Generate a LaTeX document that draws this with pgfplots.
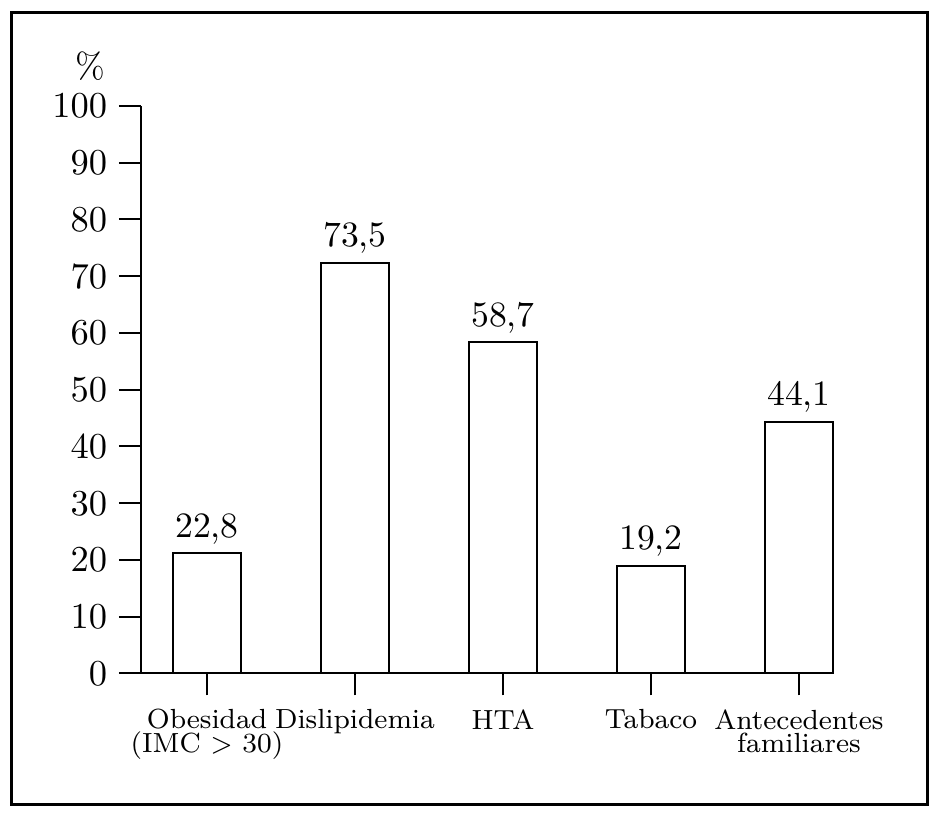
\documentclass[border=0pt]{standalone}
\usepackage{pgfplots}
\pgfplotsset{compat=1.18}
\begin{document}
\begin{tikzpicture}
\begin{axis}[
  at={(42.3pt,41.85pt)}, anchor=south west,
  scale only axis,
  width=207.6pt, height=170.25pt,
  xmin=-0.446, xmax=4.23,
  ymin=0, ymax=100,
  axis lines=left,
  axis line style={-, line width=0.6pt},
  tick style={black, line width=0.6pt},
  tick align=outside,
  major tick length=6.6pt,
  xtick={0,1,2,3,4},
  xticklabels={{Obesidad\\(IMC $>$ 30)},{Dislipidemia},{HTA},{Tabaco},{Antecedentes\\familiares}},
  xticklabel style={align=center, font=\fontsize{8.3}{7.1}\selectfont, text depth=0pt, yshift=-0.6pt},
  ytick={0,10,...,100},
  yticklabel style={font=\fontsize{10.7}{12}\selectfont},
  ybar, bar width=20.4pt,
  clip=false,
  point meta=explicit symbolic,
  nodes near coords,
  nodes near coords style={font=\fontsize{10.7}{12}\selectfont, anchor=base, yshift=4.8pt},
]
\addplot[draw=black, fill=white, line width=0.6pt] table[x=x, y=y, meta=label] {
x y label
0 21.2 22,8
1 72.4 73,5
2 58.4 58,7
3 19.0 19,2
4 44.4 44,1
};
\end{axis}
\node[font=\fontsize{10.7}{12}\selectfont] at (27pt,224.1pt) {\%};
\draw[line width=0.9pt] (3.45pt,2.55pt) rectangle (278.25pt,240.15pt);
\pgfresetboundingbox
\path (0,0) rectangle (282.3pt,243.9pt);
\end{tikzpicture}
\end{document}
